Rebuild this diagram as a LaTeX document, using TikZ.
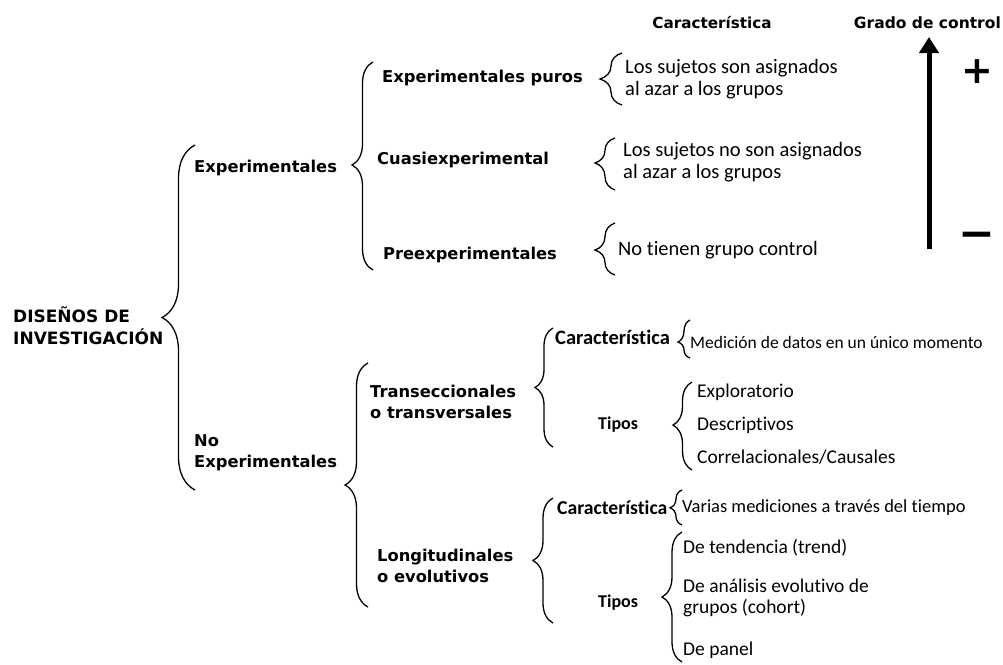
\documentclass[tikz,border=0pt]{standalone}
\usepackage{fontspec}
\setmainfont{Carlito}[Ligatures=NoCommon]
\newfontfamily\vfont{DejaVu Sans}
\usetikzlibrary{decorations.pathreplacing,arrows.meta}
\begin{document}
\begin{tikzpicture}[x=1pt,y=-1pt,
  lbl/.style={anchor=west,inner sep=0pt,align=left,font=\vfont\bfseries\fontsize{16.3}{21}\selectfont},
  desc/.style={anchor=west,inner sep=0pt,align=left,font=\fontsize{20.5}{22}\selectfont},
  item/.style={anchor=west,inner sep=0pt,align=left,font=\fontsize{19.5}{21}\selectfont},
  cond/.style={anchor=west,inner sep=0pt,font=\fontsize{#1}{20}\selectfont},
  sub/.style={anchor=west,inner sep=0pt,font=\bfseries\fontsize{#1}{20}\selectfont},
  brc/.style 2 args={decorate,decoration={brace,amplitude=#1,aspect=#2},line width=1.3pt},
]
\useasboundingbox (0,0) rectangle (1003,664);

% headers
\node[anchor=center,inner sep=0pt,font=\vfont\bfseries\fontsize{15.2}{18}\selectfont] (hchar) at (712,23) {Característica};
\node[anchor=east,inner sep=0pt,font=\vfont\bfseries\fontsize{15.5}{18}\selectfont] (hgrado) at (1001,23) {Grado de control};
\coordinate (arrlo) at (929,249);
\coordinate (arrhi) at (929,37);
\draw[line width=5pt,-{Triangle[width=19pt,length=16pt]}] (arrlo) -- (arrhi);
\node[inner sep=0pt,font=\vfont\bfseries\fontsize{38}{38}\selectfont] (plus) at (977,72) {+};
\node[inner sep=0pt,font=\vfont\bfseries\fontsize{44}{44}\selectfont] (minus) at (977,240) {−};

% level 1
\node[lbl,font=\vfont\bfseries\fontsize{17}{22}\selectfont] (root) at (13,326) {DISEÑOS DE\\INVESTIGACIÓN};
\node[lbl] (exp) at (194,168) {Experimentales};
\node[lbl] (noexp) at (194,452.5) {No\\Experimentales};
\coordinate (b1lo) at (195,490); \coordinate (b1hi) at (195,145);
\draw[brc={33pt}{0.5}] (b1lo) -- (b1hi);

% experimental branch
\coordinate (b2lo) at (373,270); \coordinate (b2hi) at (373,62);
\draw[brc={21pt}{0.505}] (b2lo) -- (b2hi);
\node[lbl] (pur) at (382,78) {Experimentales puros};
\node[lbl] (cuasi) at (377,160) {Cuasiexperimental};
\node[lbl] (pre) at (383,255) {Preexperimentales};

\coordinate (b3lo) at (622,105); \coordinate (b3hi) at (622,53);
\draw[brc={22pt}{0.5}] (b3lo) -- (b3hi);
\node[desc] (c1) at (625,79) {Los sujetos son asignados\\al azar a los grupos};
\coordinate (b4lo) at (615,190); \coordinate (b4hi) at (615,138);
\draw[brc={20pt}{0.52}] (b4lo) -- (b4hi);
\node[desc] (c2) at (623,162.5) {Los sujetos no son asignados\\al azar a los grupos};
\coordinate (b5lo) at (615,275); \coordinate (b5hi) at (615,223);
\draw[brc={20pt}{0.48}] (b5lo) -- (b5hi);
\node[desc] (c3) at (618,250) {No tienen grupo control};

% no experimental branch
\coordinate (b6lo) at (368,607); \coordinate (b6hi) at (368,363);
\draw[brc={23pt}{0.5}] (b6lo) -- (b6hi);
\node[lbl] (trans) at (370,402) {Transeccionales\\o transversales};
\node[lbl] (long) at (377,566) {Longitudinales\\o evolutivos};

% transeccionales
\coordinate (b7lo) at (553,447); \coordinate (b7hi) at (553,328);
\draw[brc={18pt}{0.5}] (b7lo) -- (b7hi);
\node[sub=20.5] (tchar) at (555,337) {Característica};
\coordinate (b8lo) at (690,358); \coordinate (b8hi) at (690,320);
\draw[brc={12pt}{0.42}] (b8lo) -- (b8hi);
\node[cond=17.5] (tchartxt) at (690,342) {Medición de datos en un único momento};
\node[sub=18] (ttipos) at (598,425) {Tipos};
\coordinate (b9lo) at (692,470); \coordinate (b9hi) at (692,382);
\draw[brc={19pt}{0.51}] (b9lo) -- (b9hi);
\node[item] (t1) at (697,392) {Exploratorio};
\node[item] (t2) at (697,425) {Descriptivos};
\node[item] (t3) at (697,457) {Correlacionales/Causales};

% longitudinales
\coordinate (b10lo) at (553,623); \coordinate (b10hi) at (553,498);
\draw[brc={20pt}{0.5}] (b10lo) -- (b10hi);
\node[sub=19.7] (lchar) at (557,508) {Característica};
\coordinate (b11lo) at (682,525); \coordinate (b11hi) at (682,490);
\draw[brc={12pt}{0.49}] (b11lo) -- (b11hi);
\node[cond=18.5] (lchartxt) at (682,508) {Varias mediciones a través del tiempo};
\node[sub=18] (ltipos) at (598,603) {Tipos};
\coordinate (b12lo) at (682,662); \coordinate (b12hi) at (682,532);
\draw[brc={20pt}{0.5}] (b12lo) -- (b12hi);
\node[item] (l1) at (683,548) {De tendencia (trend)};
\node[item] (l2) at (683,597.5) {De análisis evolutivo de\\grupos (cohort)};
\node[item] (l3) at (683,650) {De panel};
\end{tikzpicture}
\end{document}
